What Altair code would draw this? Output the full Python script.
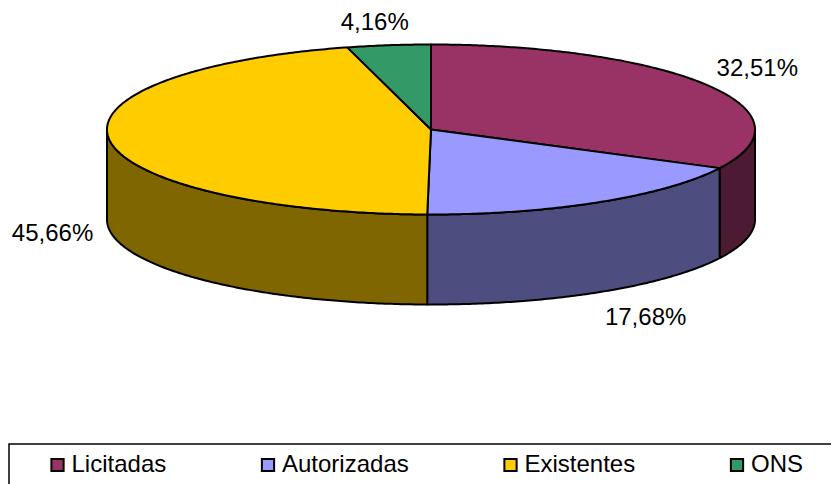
import math
import altair as alt
import pandas as pd

CATEGORIES = ["Licitadas", "Autorizadas", "Existentes", "ONS"]
SHARES = [32.51, 17.68, 45.66, 4.16]
LABELS = ["32,51%", "17,68%", "45,66%", "4,16%"]
TOP_COLORS = ["#993366", "#9999FF", "#FFCC00", "#339966"]
SIDE_COLORS = ["#4D1A33", "#4D4D80", "#806600", "#1A4D33"]

# projected pie geometry (plot-area pixels)
CX, CY, RX, RY, DEPTH = 423, 121.5, 324, 85, 90
LABEL_OFFSETS = [(50, -16.5), (47, 115.5), (-57, 94), (-14, -22.5)]


def pt(a, drop=0.0):
    return [CX + RX * math.sin(a), CY - RY * math.cos(a) + drop]


def arc(a0, a1, drop=0.0):
    n = max(2, int(abs(a1 - a0) / 0.01))
    return [pt(a0 + (a1 - a0) * i / n, drop) for i in range(n + 1)]


def feature(ring, name, color, kind):
    return {
        "type": "Feature",
        "properties": {"name": name, "color": color, "kind": kind},
        "geometry": {"type": "Polygon", "coordinates": [ring + [ring[0]]]},
    }


total = sum(SHARES)
tops, sides, labels = [], [], []
start = 0.0
for name, share, label, side, off in zip(CATEGORIES, SHARES, LABELS, SIDE_COLORS, LABEL_OFFSETS):
    end = start + share / total * 2 * math.pi
    tops.append(feature([[CX, CY]] + arc(start, end), name, side, "top"))
    # only the front half of the rim is visible
    v0, v1 = max(start, math.pi / 2), min(end, 3 * math.pi / 2)
    if v1 > v0:
        sides.append(feature(arc(v0, v1) + arc(v1, v0, DEPTH), name, side, "side"))
    mid = (start + end) / 2
    px, py = pt(mid)
    labels.append({"text": label, "x": px + off[0], "y": py + off[1]})
    start = end

frame = alt.Chart(pd.DataFrame({"a": [1]})).mark_rect(
    fill="white", stroke="#000000", strokeWidth=1.5
).encode(
    x=alt.value(1), x2=alt.value(860), y=alt.value(436), y2=alt.value(500)
)

side_layer = alt.Chart(alt.Data(values=sides)).mark_geoshape(
    stroke="black", strokeWidth=2, strokeJoin="round"
).encode(fill=alt.Fill("properties.color:N", scale=None, legend=None))

top_layer = alt.Chart(alt.Data(values=tops)).mark_geoshape(
    stroke="black", strokeWidth=2, strokeJoin="round"
).encode(
    fill=alt.Fill(
        "properties.name:N",
        sort=CATEGORIES,
        scale=alt.Scale(domain=CATEGORIES, range=TOP_COLORS),
        legend=alt.Legend(
            title=None,
            orient="none",
            legendX=37.5,
            legendY=445,
            direction="horizontal",
            columns=4,
            gridAlign="none",
            columnPadding=89.5,
            symbolType="square",
            symbolSize=150,
            symbolStrokeColor="black",
            symbolStrokeWidth=2,
            symbolOpacity=1,
            labelFont="Liberation Sans",
            labelFontSize=24,
            labelColor="#000000",
            labelOffset=2,
            labelLimit=300,
            padding=0,
        ),
    )
)

text_layer = alt.Chart(pd.DataFrame(labels)).mark_text(
    font="Liberation Sans", fontSize=24, color="#000000", align="center", baseline="middle"
).encode(longitude="x:Q", latitude="y:Q", text="text:N")

chart = (
    alt.layer(frame, side_layer, top_layer, text_layer)
    .project(type="identity", scale=1, translate=[0, 0])
    .resolve_scale(fill="independent")
    .properties(width=823, height=476, padding=0, background="white",
                autosize=alt.AutoSizeParams(type="none"))
    .configure_view(stroke=None)
)

chart.save("out.html", embed_options={"renderer": "svg", "actions": False})
